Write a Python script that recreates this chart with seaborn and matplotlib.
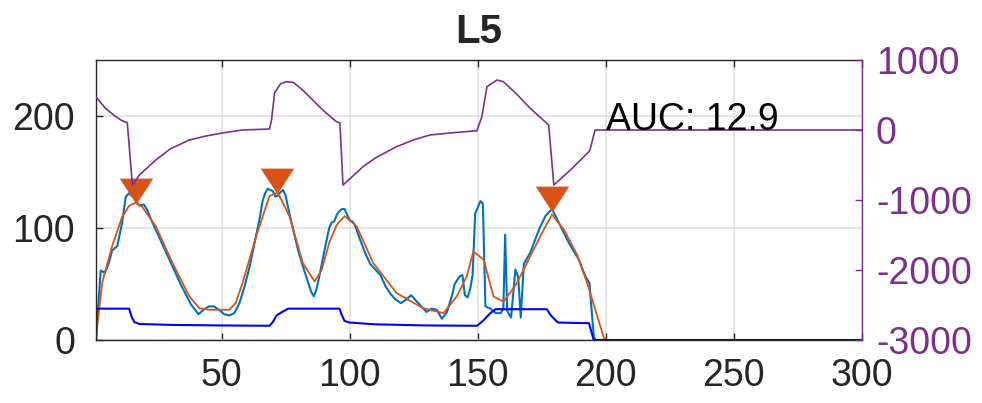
import matplotlib
matplotlib.use("Agg")
import matplotlib.pyplot as plt
import seaborn as sns

# raw sensor trace (left axis)
sig_x = [1, 2.8, 4.5, 6.0, 7.3, 9.3, 11.2, 12.6, 13.9, 15.8, 17.8, 19.7, 21, 22.4,
         24, 26, 28, 30, 32, 34, 36, 38, 40, 41, 43, 45, 47, 49, 51, 53, 55, 57,
         59, 61, 63, 65, 66, 67, 68, 69, 70, 71, 72, 73, 74, 75, 76, 78, 80, 82,
         84, 85, 86, 87, 88, 90, 92, 93, 94, 95, 96, 97, 98, 99, 100, 101, 102,
         104, 106, 108, 110, 112, 114, 116, 118, 120, 122, 124, 126, 128, 130,
         132, 134, 136, 138, 140, 141, 143, 144, 145, 146, 147, 148, 149, 150,
         151, 152, 153, 155, 157, 159, 160, 160.7, 161.5, 163, 164.7, 165.8,
         166.8, 168, 170.5, 174, 176.5, 179, 181.6, 185.5, 189.4, 192, 193.6,
         195.3, 196, 300]
sig_y = [0, 62, 60, 69, 80, 84, 105, 128, 131, 127, 120, 121, 116, 108,
         100, 90, 80, 70, 60, 50, 41, 32, 26, 23, 27, 30, 30, 27, 23, 22, 24, 33,
         48, 66, 88, 110, 124, 131, 135, 134, 133, 128, 129, 132, 134, 129, 118, 98, 79, 64,
         50, 43, 39, 45, 55, 78, 100, 105, 106, 112, 115, 117, 117, 112, 107, 106, 103,
         90, 78, 68, 63, 58, 48, 41, 36, 33, 36, 40, 35, 30, 25,
         28, 27, 19, 25, 40, 50, 57, 58, 40, 38, 45, 58, 113, 118,
         124, 122, 30, 28, 24, 24, 28, 94, 26, 20, 63, 56,
         20, 68, 78, 99, 111, 117, 105, 87, 72, 57, 51,
         3, 0, 0]

# smoothed trace (left axis)
smooth_x = [1, 3.4, 7.3, 11.2, 14, 16.5, 19, 24.3, 30.8, 37.4, 41.3, 45.2, 53, 55.5,
            58.2, 63.5, 68.7, 71.9, 76.5, 81.7, 86.3, 89, 92.2, 95, 98.1, 102.7,
            109.2, 118.3, 128.7, 136.6, 141.8, 145.7, 148.3, 150, 152.3, 156.2,
            160.1, 165.3, 170.5, 175.8, 179, 183.6, 188.8, 192.7, 196.7, 199.3,
            200, 300]
smooth_y = [3, 51, 84, 110, 120, 122.6, 119, 101.6, 69, 39, 28.5, 27, 27, 33,
            51, 92.6, 128.5, 131.6, 110.6, 68.8, 52.3, 62, 88, 103, 110.6, 101.6,
            68.8, 41.9, 28.4, 24, 38.8, 56.8, 79.2, 76, 71.7, 38.8,
            34.3, 50.8, 74.7, 98.7, 112, 98.7, 76, 51, 21, 1.5,
            0, 0]

# step / state trace (left axis)
step_x = [1, 1.2, 13.9, 15, 16, 18, 30, 50, 68.7, 70, 71.5, 73.9, 76, 96, 97, 98,
          100, 110, 130, 149.7, 152, 154.9, 157, 177, 178.5, 181.3, 193.4, 195.3, 300]
step_y = [0, 28, 28, 20, 16, 14.3, 13.5, 13, 12.7, 16, 22, 25.4, 28, 28, 22, 17,
          15.6, 14, 13, 12.7, 17, 24, 27.5, 27.5, 22, 15.6, 15, 0, 0]

# derivative-like trace (right axis)
deriv_x = [1, 4.7, 8.7, 11.2, 13.2, 15.2, 18, 24.3, 30, 37.4, 44, 50.3, 58, 68.7,
           69.5, 70.7, 73, 75.2, 78, 82, 89.5, 94.8, 96.2, 97.4, 100, 105.2, 110,
           118.3, 125, 131.4, 140, 149.7, 151.6, 153.6, 157.5, 160, 165, 170.5,
           177.7, 179.7, 186.2, 193.4, 193.8, 195.8, 300]
deriv_y = [470, 310, 190, 133, 104, -786, -640, -429, -270, -143, -85, -43, 0, 14,
           143, 529, 660, 690, 680, 560, 286, 119, 100, -786, -700, -524, -400,
           -238, -140, -71, -40, -10, 190, 619, 714, 690, 520, 310,
           71, -786, -571, -310, -286, 0, 0]

# detected peaks
peak_x = [16.7, 71.7, 179]
peak_y = [133, 142, 125.6]
auc_label = "AUC: 12.9"

BLUE = "#0072BD"
ORANGE = "#D95319"
STEP = "#0000FF"
PURPLE = "#7E2F8E"
DARK = "#262626"

sns.set_style("white")
plt.rcParams["font.family"] = ["Liberation Sans", "DejaVu Sans"]
plt.rcParams["axes.unicode_minus"] = False

fig, ax = plt.subplots(figsize=(9.82, 4.03), dpi=100)
fig.subplots_adjust(left=0.0978, right=0.8778, bottom=0.1563, top=0.8511)
ax2 = ax.twinx()

sns.lineplot(x=sig_x, y=sig_y, ax=ax, color=BLUE, lw=1.5, sort=False, estimator=None)
sns.lineplot(x=smooth_x, y=smooth_y, ax=ax, color=ORANGE, lw=1.3, sort=False, estimator=None)
sns.lineplot(x=step_x, y=step_y, ax=ax, color=STEP, lw=1.5, sort=False, estimator=None)
tri = [(-1, 0.77), (1, 0.77), (0, -0.77)]
sns.scatterplot(x=peak_x, y=peak_y, ax=ax, marker=tri, s=580, color=ORANGE,
                linewidth=0, legend=False, zorder=5)

sns.lineplot(x=deriv_x, y=deriv_y, ax=ax2, color=PURPLE, lw=1.2, sort=False, estimator=None)
ax2.text(200, 0, auc_label, fontsize=27, va="baseline", ha="left", color="black")

ax.set_xlim(1, 300)
ax.set_xticks([50, 100, 150, 200, 250, 300])
ax.set_ylim(0, 250)
ax.set_yticks([0, 100, 200])
ax2.set_ylim(-3000, 1000)
ax2.set_yticks([-3000, -2000, -1000, 0, 1000])
for a in (ax, ax2):
    a.set_xlabel("")
    a.set_ylabel("")

ax.set_axisbelow(True)
ax.grid(True, color="#dedede", lw=1.1)
ax2.grid(False)

ax.tick_params(axis="both", direction="in", length=5, width=1, labelsize=27,
               colors=DARK)
ax.tick_params(axis="x", top=True, bottom=True, pad=13)
ax.tick_params(axis="y", left=True, right=False, pad=15)
ax2.tick_params(axis="y", direction="in", length=5, width=1, labelsize=27,
                colors=PURPLE, pad=10)

for side in ("left", "top", "bottom"):
    ax.spines[side].set_color(DARK)
    ax.spines[side].set_linewidth(1)
    ax2.spines[side].set_visible(False)
ax.spines["right"].set_visible(False)
ax2.spines["right"].set_color(PURPLE)
ax2.spines["right"].set_linewidth(1)

ax.set_title("L5", fontsize=29, fontweight="bold", pad=12)

fig.savefig("out.png", dpi=100)
